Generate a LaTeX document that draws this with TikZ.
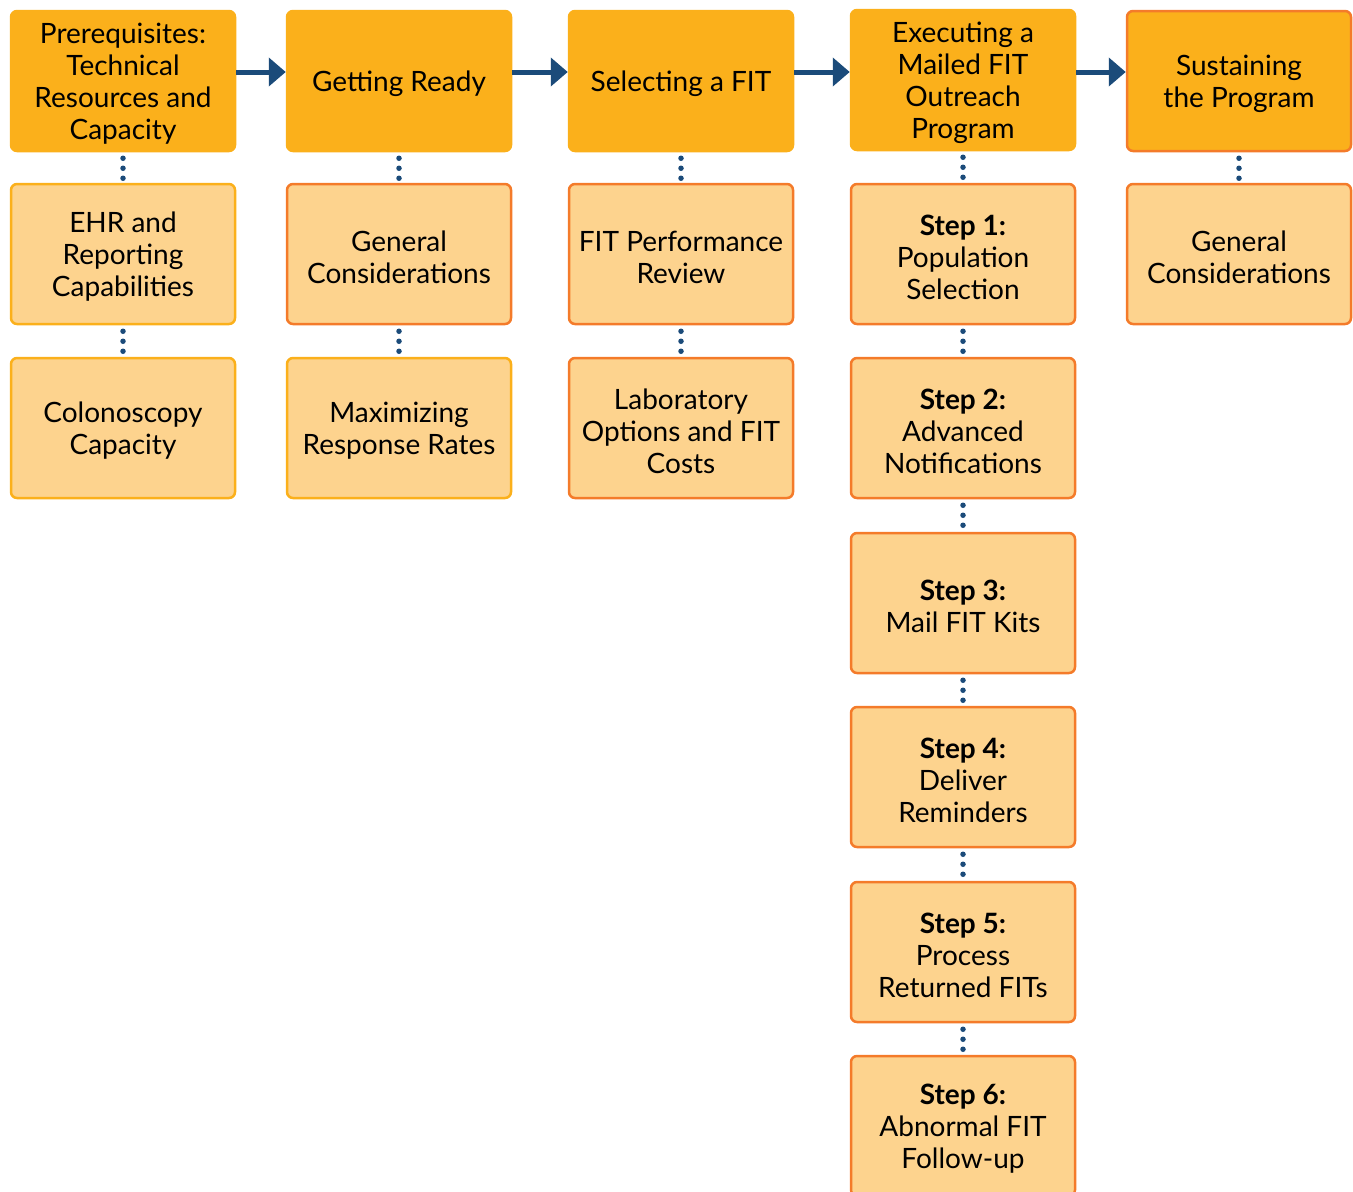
\documentclass[tikz,border=0pt]{standalone}
\usepackage{fontspec}
\setmainfont{Lato}
\usetikzlibrary{arrows.meta}
\definecolor{topfill}{HTML}{FBB01B}
\definecolor{lightfill}{HTML}{FDD38E}
\definecolor{orangeedge}{HTML}{F47B2A}
\definecolor{yellowedge}{HTML}{FBB01B}
\definecolor{navy}{HTML}{1B4B7A}
\tikzset{
  boxtext/.style={align=center, font=\fontsize{28}{32}\selectfont, inner sep=0pt, yshift=-3pt},
  box/.style={rectangle, rounded corners=6pt, minimum width=224pt, minimum height=140pt,
    line width=2.5pt, inner sep=0pt, label={[boxtext]center:#1}},
  headbox/.style={box=#1, fill=topfill, draw=topfill},
  headboxo/.style={box=#1, fill=topfill, draw=orangeedge},
  subboxy/.style={box=#1, fill=lightfill, draw=yellowedge},
  subboxo/.style={box=#1, fill=lightfill, draw=orangeedge},
  flowarrow/.style={draw=navy, line width=5pt, -{Triangle[length=17pt,width=28pt]}},
  dotline/.style={draw=navy, line width=5.5pt, line cap=round, dash pattern=on 0pt off 10pt},
}
\begin{document}
\begin{tikzpicture}[x=1pt,y=-1pt]
\useasboundingbox (0,0) rectangle (1353,1192);
\begin{scope}
\clip (0,0) rectangle (1353,1192);
% top row
\node[headbox={Prerequisites:\\Technical\\Resources and\\Capacity}] (h1) at (123,81) {};
\node[headbox={Getting Ready}] (h2) at (399,81) {};
\node[headbox={Selecting a FIT}] (h3) at (681,81) {};
\node[headbox={Executing a\\Mailed FIT\\Outreach\\Program}] (h4) at (963,80) {};
\node[headboxo={Sustaining\\the Program}] (h5) at (1239,81) {};
% column 1
\node[subboxy={EHR and\\Reporting\\Capabilities}] (c1a) at (123,254) {};
\node[subboxy={Colonoscopy\\Capacity}] (c1b) at (123,428) {};
% column 2
\node[subboxo={General\\Considerations}] (c2a) at (399,254) {};
\node[subboxy={Maximizing\\Response Rates}] (c2b) at (399,428) {};
% column 3
\node[subboxo={FIT Performance\\Review}] (c3a) at (681,254) {};
\node[subboxo={Laboratory\\Options and FIT\\Costs}] (c3b) at (681,428) {};
% column 4
\node[subboxo={\textbf{Step 1:}\\Population\\Selection}] (s1) at (963,254) {};
\node[subboxo={\textbf{Step 2:}\\Advanced\\Notifications}] (s2) at (963,428) {};
\node[subboxo={\textbf{Step 3:}\\Mail FIT Kits}] (s3) at (963,603) {};
\node[subboxo={\textbf{Step 4:}\\Deliver\\Reminders}] (s4) at (963,777) {};
\node[subboxo={\textbf{Step 5:}\\Process\\Returned FITs}] (s5) at (963,952) {};
\node[subboxo={\textbf{Step 6:}\\Abnormal FIT\\Follow-up}] (s6) at (963,1126) {};
% column 5
\node[subboxo={General\\Considerations}] (c5a) at (1239,254) {};
\end{scope}
% arrows
\draw[flowarrow] ([yshift=9pt]h1.east) -- ([yshift=9pt]h2.west);
\draw[flowarrow] ([yshift=9pt]h2.east) -- ([yshift=9pt]h3.west);
\draw[flowarrow] ([yshift=9pt]h3.east) -- ([yshift=8pt]h4.west);
\draw[flowarrow] ([yshift=8pt]h4.east) -- ([yshift=9pt]h5.west);
% dotted connectors
\draw[dotline] ([yshift=-6pt]h1.south) -- ([yshift=3pt]c1a.north);
\draw[dotline] ([yshift=-6pt]c1a.south) -- ([yshift=3pt]c1b.north);
\draw[dotline] ([yshift=-6pt]h2.south) -- ([yshift=3pt]c2a.north);
\draw[dotline] ([yshift=-6pt]c2a.south) -- ([yshift=3pt]c2b.north);
\draw[dotline] ([yshift=-6pt]h3.south) -- ([yshift=3pt]c3a.north);
\draw[dotline] ([yshift=-6pt]c3a.south) -- ([yshift=3pt]c3b.north);
\draw[dotline] ([yshift=-6pt]h4.south) -- ([yshift=3pt]s1.north);
\draw[dotline] ([yshift=-6pt]s1.south) -- ([yshift=3pt]s2.north);
\draw[dotline] ([yshift=-6pt]s2.south) -- ([yshift=3pt]s3.north);
\draw[dotline] ([yshift=-6pt]s3.south) -- ([yshift=3pt]s4.north);
\draw[dotline] ([yshift=-6pt]s4.south) -- ([yshift=3pt]s5.north);
\draw[dotline] ([yshift=-6pt]s5.south) -- ([yshift=3pt]s6.north);
\draw[dotline] ([yshift=-6pt]h5.south) -- ([yshift=3pt]c5a.north);
\end{tikzpicture}
\end{document}
